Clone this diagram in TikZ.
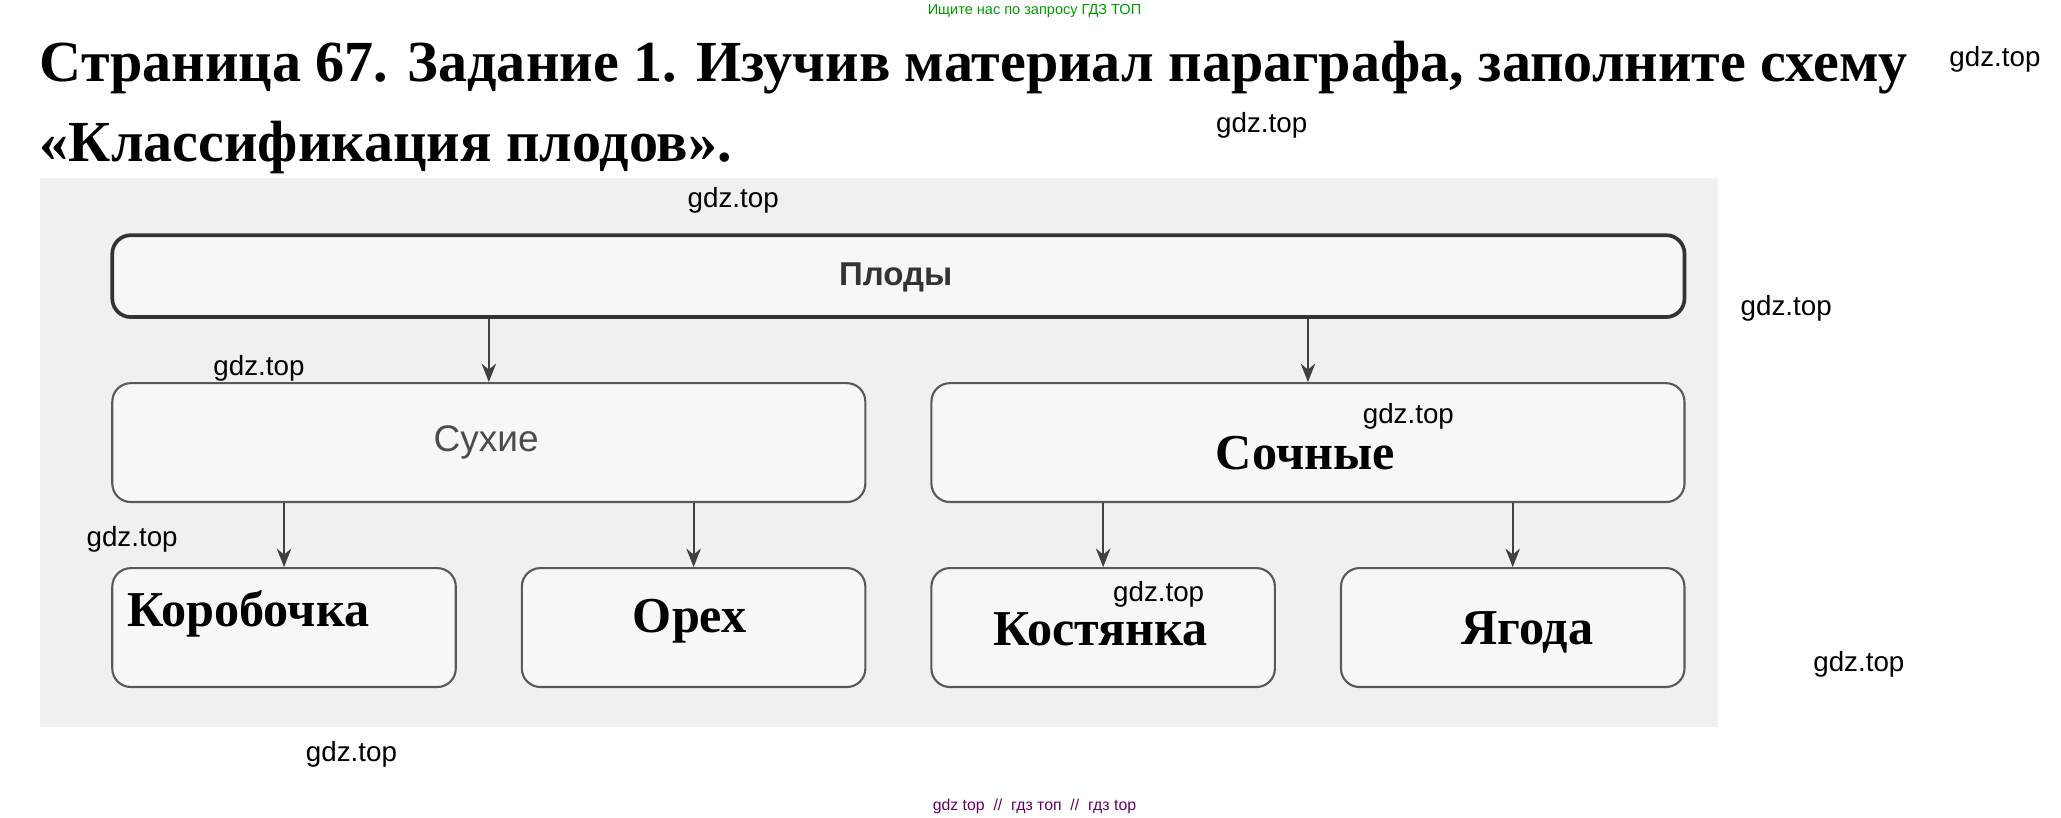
\documentclass[tikz,border=0pt]{standalone}
\usepackage{fontspec}
\setmainfont{Liberation Serif}
\setsansfont{Liberation Sans}
\usetikzlibrary{arrows.meta}
\begin{document}
\begin{tikzpicture}[x=1pt,y=-1pt,
  box/.style={draw=black!65,line width=1.6pt,rounded corners=14pt,fill=black!3},
  arr/.style={-{Stealth[length=14pt,width=11pt]},line width=1.4pt,black!75},
  wm/.style={font=\sffamily\fontsize{21}{24}\selectfont,inner sep=0pt},
  lab/.style={font=\bfseries\fontsize{38}{42}\selectfont,inner sep=0pt}]
\useasboundingbox (0,0) rectangle (1560,619);
\fill[black!6] (30,135) rectangle (1300,550);
\node[font=\sffamily\fontsize{11}{13}\selectfont,text=green!60!black] (top) at (783,8) {Ищите нас по запросу ГДЗ ТОП};
\node[anchor=base west,inner sep=0pt,font=\bfseries\fontsize{44}{50}\selectfont] (t1) at (30,62) {Страница 67. Задание 1. Изучив материал параграфа, заполните схему};
\node[anchor=base west,inner sep=0pt,font=\bfseries\fontsize{44}{50}\selectfont] (t2) at (30,122) {«Классификация плодов».};
\node[box,line width=2.8pt,draw=black!80,minimum width=1190pt,minimum height=62pt] (p) at (680,209) {};
\node[font=\sffamily\bfseries\fontsize{25}{28}\selectfont,text=black!80] at (678,210) {Плоды};
\node[box,minimum width=570pt,minimum height=90pt] (s) at (370,335) {};
\node[font=\sffamily\fontsize{28}{32}\selectfont,text=black!70] at (368,335) {Сухие};
\node[box,minimum width=570pt,minimum height=90pt] (c) at (990,335) {};
\node[lab] at (988,343) {Сочные};
\node[box,minimum width=260pt,minimum height=90pt] (b1) at (215,475) {};
\node[box,minimum width=260pt,minimum height=90pt] (b2) at (525,475) {};
\node[box,minimum width=260pt,minimum height=90pt] (b3) at (835,475) {};
\node[box,minimum width=260pt,minimum height=90pt] (b4) at (1145,475) {};
\node[lab] at (188,465) {Коробочка};
\node[lab] at (522,470) {Орех};
\node[lab] at (833,476) {Костянка};
\node[lab] at (1156,479) {Ягода};
\draw[arr] (p.south -| s.north) -- (s.north);
\draw[arr] (p.south -| c.north) -- (c.north);
\draw[arr] (s.south -| b1.north) -- (b1.north);
\draw[arr] (s.south -| b2.north) -- (b2.north);
\draw[arr] (c.south -| b3.north) -- (b3.north);
\draw[arr] (c.south -| b4.north) -- (b4.north);
\foreach \x/\y [count=\i] in {1510/45,955/95,555/152,1352/233,196/279,1066/315,100/408,877/450,1407/503,266/571}
  \node[wm] (w\i) at (\x,\y) {gdz.top};
\node[font=\sffamily\fontsize{12}{14}\selectfont,text=violet!80!black] (foot) at (783,610) {gdz top \ // \ гдз топ \ // \ гдз top};
\end{tikzpicture}
\end{document}
